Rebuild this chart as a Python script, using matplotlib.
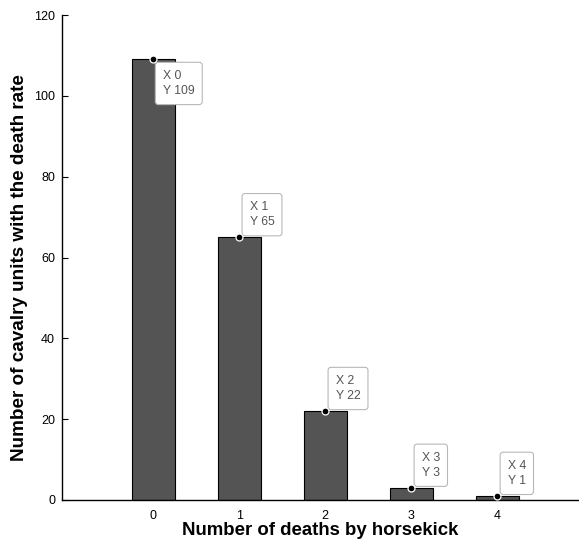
import matplotlib
matplotlib.use("Agg")
import matplotlib.pyplot as plt

plt.rcParams['font.family'] = ['Liberation Sans', 'DejaVu Sans']

deaths = [0, 1, 2, 3, 4]
units = [109, 65, 22, 3, 1]

fig = plt.figure(figsize=(5.79, 5.41), dpi=100)
ax = fig.add_axes([62 / 579, 41 / 541, (579 - 62) / 579, (500 - 15) / 541])

ax.bar(deaths, units, width=0.5, color='#545454', edgecolor='black', linewidth=0.8, zorder=2)

ax.set_xlim(-1.06, 4.95)
ax.set_ylim(0, 120)
ax.set_xticks(deaths)
ax.set_yticks(range(0, 121, 20))
ax.tick_params(direction='in', length=4, labelsize=9, width=0.8, colors='black')
ax.tick_params(axis='x', pad=7)
ax.tick_params(axis='y', pad=5)
for s in ['top', 'right']:
    ax.spines[s].set_visible(False)
for s in ['left', 'bottom']:
    ax.spines[s].set_linewidth(1.0)

ax.set_xlabel('Number of deaths by horsekick', fontsize=13.4, fontweight='bold', labelpad=0)
ax.set_ylabel('Number of cavalry units with the death rate', fontsize=13.6, fontweight='bold')
ax.yaxis.set_label_coords(-0.066, 0.48)

# data tips
for x, y in zip(deaths, units):
    ax.plot(x, y, 'o', color='black', markersize=5, markeredgecolor='white',
            markeredgewidth=0.9, zorder=5)
    if y > 100:
        off, va = (7, -7.5), 'top'
    else:
        off, va = (7.5, 6.5), 'bottom'
    ax.annotate(f'X {x}\nY {y}', (x, y), xytext=off, textcoords='offset points',
                ha='left', va=va, fontsize=8.8, color='#555555',
                linespacing=1.35,
                bbox=dict(boxstyle='round,pad=0.62,rounding_size=0.25', fc='white',
                          ec='#b8b8b8', lw=0.8), zorder=4)

fig.savefig('out.png', dpi=100)
